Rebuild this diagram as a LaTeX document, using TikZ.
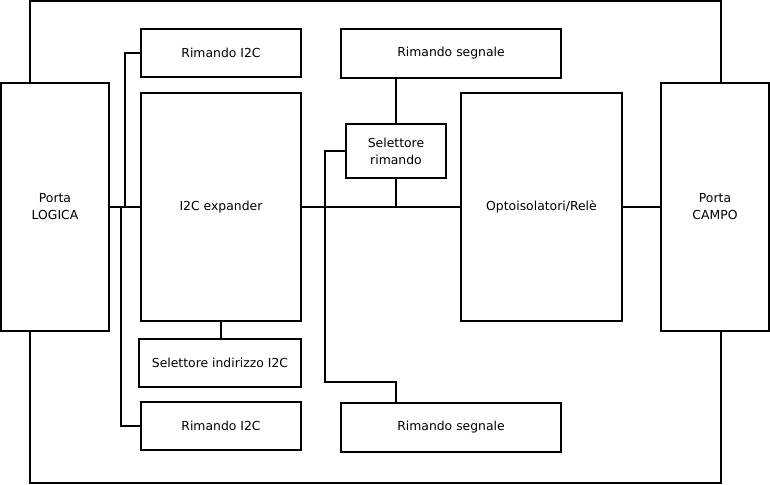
\documentclass[tikz,border=0pt]{standalone}
\usepackage{fontspec}
\setmainfont{DejaVu Sans}
\begin{document}
\begin{tikzpicture}[x=1pt,y=-1pt,
  box/.style={draw, line width=2pt, fill=white, rectangle, inner sep=0pt, align=center,
    font=\fontsize{12.4}{17}\selectfont},
  wire/.style={line width=2pt}]
\useasboundingbox (0,0) rectangle (770,484);
\draw[wire] (30,1) rectangle (721,483);
\node[box, minimum width=108pt, minimum height=248pt] (logica) at (55,207) {Porta\\LOGICA};
\node[box, minimum width=108pt, minimum height=248pt] (campo) at (715,207) {Porta\\CAMPO};
\node[box, minimum width=160pt, minimum height=48pt] (rimA) at (221,53) {Rimando I2C};
\node[box, minimum width=160pt, minimum height=228pt] (exp) at (221,207) {I2C expander};
\node[box, minimum width=162pt, minimum height=48pt] (selind) at (220,363) {Selettore indirizzo I2C};
\node[box, minimum width=160pt, minimum height=48pt] (rimB) at (221,426) {Rimando I2C};
\node[box, minimum width=220pt, minimum height=49pt] (segA) at (451,53.5) {Rimando segnale};
\node[box, minimum width=100pt, minimum height=54pt] (selrim) at (396,151) {Selettore\\rimando};
\node[box, minimum width=161pt, minimum height=228pt] (opto) at (541.5,207) {Optoisolatori/Relè};
\node[box, minimum width=220pt, minimum height=49pt] (segB) at (451,427.5) {Rimando segnale};
\coordinate (ja) at (125,207);
\coordinate (jb) at (121,207);
\coordinate (kb) at (325,382);
\coordinate (kc) at (396,382);
\draw[wire] (logica.east) -- (exp.west);
\draw[wire] (rimA.west) -| (ja);
\draw[wire] (jb) |- (rimB.west);
\draw[wire] (exp.east) -- (opto.west);
\draw[wire] (selrim.north) -- (selrim.north |- segA.south);
\draw[wire] (selrim.south) -- (selrim.south |- exp.east);
\draw[wire] (selrim.west) -| (kb) -- (kc) -- (kc |- segB.north);
\draw[wire] (exp.south) -- (exp.south |- selind.north);
\draw[wire] (opto.east) -- (campo.west);
\end{tikzpicture}
\end{document}
